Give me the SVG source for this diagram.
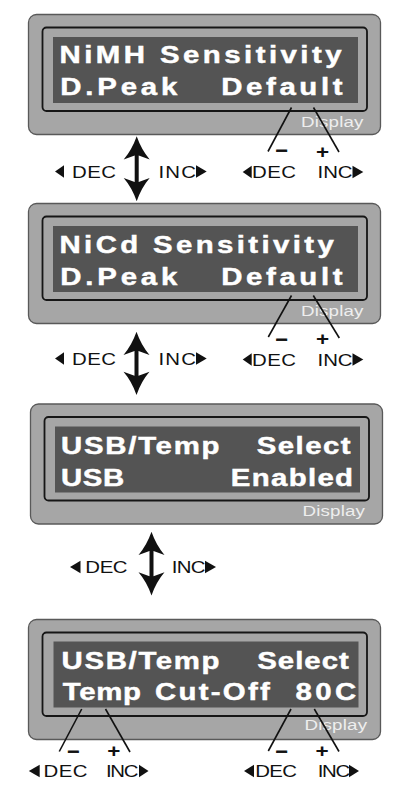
<svg xmlns="http://www.w3.org/2000/svg" width="409" height="790" viewBox="0 0 409 790">
<style>
.outer{fill:#a6a6a6;stroke:#595959;stroke-width:1.3}
.frame{fill:#a6a6a6;stroke:#161616;stroke-width:1.8}
.lcd{fill:#545454}
.lcdt{font-family:"Liberation Sans",Arial,sans-serif;font-weight:bold;font-size:23.5px;fill:#ffffff;stroke:#ffffff;stroke-width:0.45}
.disp{font-family:"Liberation Sans",Arial,sans-serif;font-size:15px;fill:#eeeeee}
.lbl{font-family:"Liberation Sans",Arial,sans-serif;font-size:17px;fill:#111111}
.sign{font-family:"Liberation Sans",Arial,sans-serif;font-weight:bold;font-size:16px;fill:#111111;stroke:#111111;stroke-width:0.8;text-anchor:middle}
.plus{font-family:"Liberation Sans",Arial,sans-serif;font-weight:bold;font-size:18px;fill:#111111;text-anchor:middle}
.lead{stroke:#111111;stroke-width:1.6;fill:none}
.tri{fill:#111111}
.arr{fill:#111111}
</style>

<g id="panel-nimh">
<rect class="outer" x="28.5" y="14.5" width="352" height="120" rx="8"/>
<rect class="frame" x="42.5" y="27.5" width="324.5" height="83.5" rx="4"/>
<rect class="lcd" x="53" y="37" width="305" height="66"/>
<g transform="scale(1.25 1)">
<text class="lcdt" x="47.6" y="63.5" textLength="225.6" lengthAdjust="spacing">NiMH Sensitivity</text>
<text class="lcdt" x="48.24" y="95.5" textLength="93.6" lengthAdjust="spacing">D.Peak</text>
<text class="lcdt" x="176.96" y="95.5" textLength="97.04" lengthAdjust="spacing">Default</text>
<text class="disp" x="240.8" y="127" textLength="50" lengthAdjust="spacing">Display</text>
<text class="sign" x="225.04" y="156.3">−</text>
<text class="plus" x="258" y="158.3">+</text>
</g>
<line class="lead" x1="291.5" y1="107.5" x2="268" y2="151.5"/>
<line class="lead" x1="313.5" y1="107.5" x2="339" y2="152"/>
<polygon class="tri" points="242.7,172 251.7,165.7 251.7,178.3"/>
<g transform="scale(1.2 1)">
<text class="lbl" x="210" y="178.3" textLength="36.58" lengthAdjust="spacing">DEC</text>
<text class="lbl" x="264.58" y="178.3" textLength="29.25" lengthAdjust="spacing">INC</text>
</g>
<polygon class="tri" points="352.5,165.7 363.3,172 352.5,178.3"/>
</g>

<g id="panel-nicd">
<rect class="outer" x="28.5" y="203.5" width="352" height="120" rx="8"/>
<rect class="frame" x="42.5" y="216.5" width="324.5" height="83.5" rx="4"/>
<rect class="lcd" x="53" y="226" width="305" height="66"/>
<g transform="scale(1.25 1)">
<text class="lcdt" x="47.6" y="253" textLength="219.44" lengthAdjust="spacing">NiCd Sensitivity</text>
<text class="lcdt" x="48.24" y="285" textLength="93.6" lengthAdjust="spacing">D.Peak</text>
<text class="lcdt" x="176.96" y="285" textLength="97.04" lengthAdjust="spacing">Default</text>
<text class="disp" x="240.8" y="316.5" textLength="50" lengthAdjust="spacing">Display</text>
<text class="sign" x="225.04" y="344.6">−</text>
<text class="plus" x="258" y="345">+</text>
</g>
<line class="lead" x1="291.5" y1="295.5" x2="268.3" y2="337"/>
<line class="lead" x1="313.3" y1="295.5" x2="339.3" y2="338"/>
<polygon class="tri" points="242.7,359.5 251.7,353.2 251.7,365.8"/>
<g transform="scale(1.2 1)">
<text class="lbl" x="210" y="366" textLength="36.58" lengthAdjust="spacing">DEC</text>
<text class="lbl" x="264.58" y="366" textLength="29.25" lengthAdjust="spacing">INC</text>
</g>
<polygon class="tri" points="352.5,353.2 363.3,359.5 352.5,365.8"/>
</g>

<g id="panel-usb">
<rect class="outer" x="30.5" y="404" width="352" height="120" rx="8"/>
<rect class="frame" x="44.5" y="417" width="324.5" height="83.5" rx="4"/>
<rect class="lcd" x="55" y="426.5" width="305" height="66"/>
<g transform="scale(1.25 1)">
<text class="lcdt" x="48.8" y="454" textLength="126.8" lengthAdjust="spacing">USB/Temp</text>
<text class="lcdt" x="205.36" y="454" textLength="75.04" lengthAdjust="spacing">Select</text>
<text class="lcdt" x="48.8" y="486" textLength="50.64" lengthAdjust="spacing">USB</text>
<text class="lcdt" x="184.64" y="486" textLength="97.76" lengthAdjust="spacing">Enabled</text>
<text class="disp" x="242" y="516.5" textLength="50" lengthAdjust="spacing">Display</text>
</g>
</g>

<g id="panel-temp">
<rect class="outer" x="28.5" y="619.5" width="352" height="120" rx="8"/>
<rect class="frame" x="42.5" y="632.5" width="324.5" height="83.5" rx="4"/>
<rect class="lcd" x="53.5" y="641.5" width="305" height="66"/>
<g transform="scale(1.25 1)">
<text class="lcdt" x="49.28" y="669" textLength="126.32" lengthAdjust="spacing">USB/Temp</text>
<text class="lcdt" x="205.84" y="669" textLength="73.2" lengthAdjust="spacing">Select</text>
<text class="lcdt" x="50.24" y="700" textLength="62.56" lengthAdjust="spacing">Temp</text>
<text class="lcdt" x="124" y="700" textLength="91.8" lengthAdjust="spacing">Cut-Off</text>
<text class="lcdt" x="236.4" y="700" textLength="48.56" lengthAdjust="spacing">80C</text>
<text class="disp" x="243.6" y="730" textLength="50" lengthAdjust="spacing">Display</text>
<text class="sign" x="58.4" y="757.3">−</text>
<text class="plus" x="91.04" y="757.3">+</text>
<text class="sign" x="225.04" y="757.3">−</text>
<text class="plus" x="257.6" y="757.3">+</text>
</g>
<line class="lead" x1="81.7" y1="709" x2="59.3" y2="751.5"/>
<line class="lead" x1="105.5" y1="709" x2="130" y2="752"/>
<line class="lead" x1="291" y1="709" x2="268.3" y2="751"/>
<line class="lead" x1="314.3" y1="709" x2="339" y2="751.5"/>
<polygon class="tri" points="28.8,771 39.7,764.7 39.7,777.3"/>
<polygon class="tri" points="139,764.7 148.5,771 139,777.3"/>
<polygon class="tri" points="244,771 254,764.7 254,777.3"/>
<polygon class="tri" points="349,764.7 359,771 349,777.3"/>
<g transform="scale(1.2 1)">
<text class="lbl" x="36.33" y="777" textLength="36.67" lengthAdjust="spacing">DEC</text>
<text class="lbl" x="88.33" y="777" textLength="27" lengthAdjust="spacing">INC</text>
<text class="lbl" x="212.75" y="777" textLength="34.67" lengthAdjust="spacing">DEC</text>
<text class="lbl" x="264.83" y="777" textLength="27" lengthAdjust="spacing">INC</text>
</g>
</g>

<g id="connectors">
<path class="arr" d="M136.7,136.3 Q141.5,150 149.7,159.5 L138.7,155.5 L138.7,182.1 L149.7,178.1 Q141.5,187.6 136.7,201.3 Q131.9,187.6 123.7,178.1 L134.7,182.1 L134.7,155.5 L123.7,159.5 Q131.9,150 136.7,136.3 Z"/>
<polygon class="tri" points="55,171.5 64,165.2 64,177.8"/>
<polygon class="tri" points="196,165.2 206.7,171.5 196,177.8"/>

<path class="arr" d="M136.5,331.7 Q141.3,345.4 149.5,354.9 L138.5,350.9 L138.5,375.8 L149.5,371.8 Q141.3,381.3 136.5,395 Q131.7,381.3 123.5,371.8 L134.5,375.8 L134.5,350.9 L123.5,354.9 Q131.7,345.4 136.5,331.7 Z"/>
<polygon class="tri" points="55,358.5 64,352.2 64,364.8"/>
<polygon class="tri" points="196,352.2 206.7,358.5 196,364.8"/>

<path class="arr" d="M151.5,531.7 Q156.3,545.4 164.5,554.9 L153.5,550.9 L153.5,576.3 L164.5,572.3 Q156.3,581.8 151.5,595.5 Q146.7,581.8 138.5,572.3 L149.5,576.3 L149.5,550.9 L138.5,554.9 Q146.7,545.4 151.5,531.7 Z"/>
<polygon class="tri" points="70,567 80.5,560.7 80.5,573.3"/>
<polygon class="tri" points="205,560.7 216,567 205,573.3"/>

<g transform="scale(1.2 1)">
<text class="lbl" x="60" y="178" textLength="36.67" lengthAdjust="spacing">DEC</text>
<text class="lbl" x="132.08" y="178" textLength="31.17" lengthAdjust="spacing">INC</text>
<text class="lbl" x="60" y="365" textLength="36.67" lengthAdjust="spacing">DEC</text>
<text class="lbl" x="132.08" y="365" textLength="31.17" lengthAdjust="spacing">INC</text>
<text class="lbl" x="71.08" y="573.3" textLength="35.25" lengthAdjust="spacing">DEC</text>
<text class="lbl" x="143.17" y="573.3" textLength="28" lengthAdjust="spacing">INC</text>
</g>
</g>
</svg>
